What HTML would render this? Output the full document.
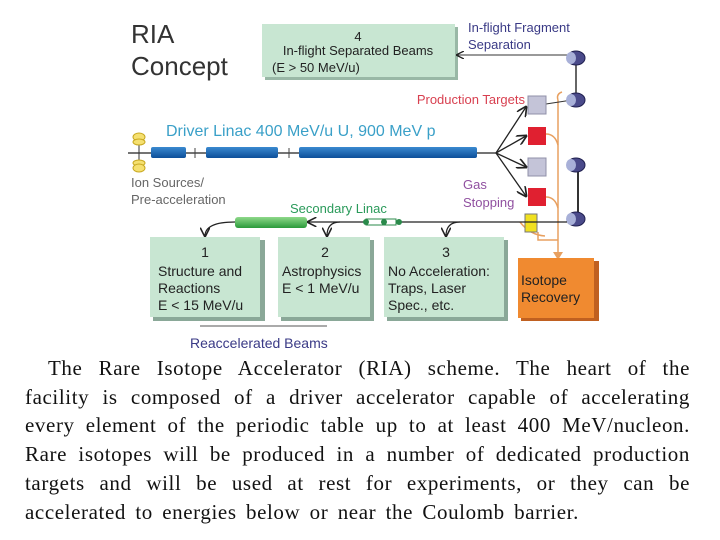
<!DOCTYPE html>
<html><head><style>
body{margin:0;width:720px;height:540px;background:#fff;overflow:hidden;font-family:"Liberation Sans",sans-serif}
#cap{position:absolute;left:25px;top:354px;width:665px;font-family:"Liberation Serif",serif;font-size:21px;line-height:28.7px;color:#111;letter-spacing:0.6px}
#cap div{text-align:justify;text-align-last:justify;white-space:nowrap}
#cap div.l{text-align-last:left;word-spacing:3.5px}
</style></head><body>
<svg width="720" height="350" style="position:absolute;left:0;top:0" font-family="Liberation Sans, sans-serif">
<defs>
<marker id="ah" markerWidth="8" markerHeight="8" refX="7" refY="4" orient="auto"><path d="M0,0 L8,4 L0,8" fill="none" stroke="#222" stroke-width="1.3"/></marker>
<linearGradient id="bl" x1="0" y1="0" x2="0" y2="1"><stop offset="0" stop-color="#3a8ad0"/><stop offset="1" stop-color="#0d4f9a"/></linearGradient>
<linearGradient id="gr" x1="0" y1="0" x2="0" y2="1"><stop offset="0" stop-color="#8fd98a"/><stop offset="1" stop-color="#2a9a3a"/></linearGradient>
</defs>
<text x="131" y="43" font-size="26" fill="#333">RIA</text>
<text x="131" y="75" font-size="26" fill="#333">Concept</text>
<rect x="265" y="27" width="193" height="53" fill="#99b8a6"/>
<rect x="262" y="24" width="193" height="53" fill="#c8e6d2"/>
<text x="358" y="41" font-size="13" text-anchor="middle" fill="#222">4</text>
<text x="358" y="55" font-size="13" text-anchor="middle" fill="#222">In-flight Separated Beams</text>
<text x="272" y="72" font-size="13" fill="#222">(E &gt; 50 MeV/u)</text>
<text x="468" y="32" font-size="13" fill="#3a3a86">In-flight Fragment</text>
<text x="468" y="49" font-size="13" fill="#3a3a86">Separation</text>
<line x1="570" y1="55" x2="457" y2="55" stroke="#333" marker-end="url(#ah)"/>
<path d="M558,100 Q556,94 562,92 M558,100 L558,255" stroke="#e8a060" fill="none" stroke-width="1.5"/>
<path d="M546,134 Q555,134 558,145 M546,197 Q555,197 558,208 M538,232 L538,240 L558,240 M520,222 Q530,235 545,236" stroke="#e8a060" fill="none" stroke-width="1.5"/>
<polygon points="553,252 563,252 558,260" fill="#e8a060"/>
<line x1="576" y1="58" x2="576" y2="100" stroke="#333" stroke-width="1.5"/>
<line x1="578" y1="165" x2="578" y2="219" stroke="#333" stroke-width="2"/>
<line x1="546" y1="104" x2="572" y2="100" stroke="#333"/>
<g fill="#4a4a8a" stroke="#202050">
<ellipse cx="576" cy="58" rx="9" ry="7"/><ellipse cx="576" cy="100" rx="9" ry="7"/><ellipse cx="576" cy="165" rx="9" ry="7"/><ellipse cx="576" cy="219" rx="9" ry="7"/>
</g>
<g fill="#a8b0d8"><ellipse cx="571" cy="58" rx="5" ry="6"/><ellipse cx="571" cy="100" rx="5" ry="6"/><ellipse cx="571" cy="165" rx="5" ry="6"/><ellipse cx="571" cy="219" rx="5" ry="6"/></g>
<text x="525" y="104" font-size="13" fill="#d84050" text-anchor="end">Production Targets</text>
<rect x="528" y="96" width="18" height="18" fill="#c4c4d8" stroke="#9090a8"/>
<rect x="528" y="127" width="18" height="18" fill="#e02030"/>
<rect x="528" y="158" width="18" height="18" fill="#c4c4d8" stroke="#9090a8"/>
<rect x="528" y="188" width="18" height="18" fill="#e02030"/>
<rect x="525" y="214" width="12" height="18" fill="#f0e020" stroke="#777"/>
<g stroke="#222" stroke-width="1.3" fill="none">
<line x1="496" y1="153" x2="526" y2="107" marker-end="url(#ah)"/>
<line x1="496" y1="153" x2="526" y2="136" marker-end="url(#ah)"/>
<line x1="496" y1="153" x2="526" y2="167" marker-end="url(#ah)"/>
<line x1="496" y1="153" x2="526" y2="196" marker-end="url(#ah)"/>
</g>
<text x="166" y="136" font-size="16" fill="#3aa0c8">Driver Linac 400 MeV/u U, 900 MeV p</text>
<line x1="128" y1="153" x2="496" y2="153" stroke="#222" stroke-width="1.3"/>
<line x1="195" y1="148" x2="195" y2="158" stroke="#444"/><line x1="289" y1="148" x2="289" y2="158" stroke="#444"/>
<rect x="151" y="147" width="35" height="11" rx="2" fill="url(#bl)"/>
<rect x="206" y="147" width="72" height="11" rx="2" fill="url(#bl)"/>
<rect x="299" y="147" width="178" height="11" rx="2" fill="url(#bl)"/>
<line x1="139" y1="135" x2="139" y2="170" stroke="#333"/>
<ellipse cx="139" cy="137" rx="6" ry="4" fill="#f5e070" stroke="#c8a820"/>
<ellipse cx="139" cy="142" rx="6" ry="3" fill="#f5e070" stroke="#c8a820"/>
<ellipse cx="139" cy="163" rx="6" ry="3" fill="#f5e070" stroke="#c8a820"/>
<ellipse cx="139" cy="168" rx="6" ry="4" fill="#f5e070" stroke="#c8a820"/>
<text x="131" y="187" font-size="13" fill="#666">Ion Sources/</text>
<text x="131" y="204" font-size="13" fill="#666">Pre-acceleration</text>
<text x="463" y="189" font-size="13" fill="#9050a0">Gas</text>
<text x="463" y="207" font-size="13" fill="#9050a0">Stopping</text>
<text x="290" y="213" font-size="13" fill="#2a9a5a">Secondary Linac</text>
<line x1="567" y1="222" x2="308" y2="222" stroke="#222" stroke-width="1.2" marker-end="url(#ah)"/>
<rect x="235" y="217" width="72" height="11" rx="3" fill="url(#gr)"/>
<rect x="366" y="219" width="30" height="6" fill="#fff" stroke="#2a8a4a"/>
<circle cx="366" cy="222" r="3" fill="#2a8a4a"/><circle cx="384" cy="222" r="3" fill="#2a8a4a"/><circle cx="399" cy="222" r="3" fill="#2a8a4a"/>
<g stroke="#222" stroke-width="1.2" fill="none">
<path d="M235,222 Q205,222 205,236" marker-end="url(#ah)"/>
<path d="M340,222 Q327,222 327,236" marker-end="url(#ah)"/>
<path d="M460,222 Q446,222 446,236" marker-end="url(#ah)"/>
</g>
<rect x="153" y="240" width="112" height="81" fill="#8aa898"/>
<rect x="150" y="237" width="110" height="80" fill="#c8e6d2"/>
<rect x="281" y="240" width="93" height="81" fill="#8aa898"/>
<rect x="278" y="237" width="92" height="80" fill="#c8e6d2"/>
<rect x="387" y="240" width="121" height="81" fill="#8aa898"/>
<rect x="384" y="237" width="120" height="80" fill="#c8e6d2"/>
<g font-size="14" fill="#222">
<text x="205" y="257" text-anchor="middle">1</text>
<text x="158" y="276">Structure and</text><text x="158" y="293">Reactions</text><text x="158" y="310">E &lt; 15 MeV/u</text>
<text x="325" y="257" text-anchor="middle">2</text>
<text x="282" y="276">Astrophysics</text><text x="282" y="293">E &lt; 1 MeV/u</text>
<text x="446" y="257" text-anchor="middle">3</text>
<text x="388" y="276">No Acceleration:</text><text x="388" y="293">Traps, Laser</text><text x="388" y="310">Spec., etc.</text>
</g>
<rect x="521" y="261" width="78" height="60" fill="#c06020"/>
<rect x="518" y="258" width="76" height="60" fill="#f08a30"/>
<text x="521" y="285" font-size="14" fill="#222">Isotope</text>
<text x="521" y="302" font-size="14" fill="#222">Recovery</text>
<line x1="200" y1="326" x2="327" y2="326" stroke="#555"/>
<text x="190" y="348" font-size="14" fill="#3a3a86">Reaccelerated Beams</text>
</svg>
<div id="cap">
<div style="padding-left:23px">The Rare Isotope Accelerator (RIA) scheme. The heart of the</div>
<div>facility is composed of a driver accelerator capable of accelerating</div>
<div>every element of the periodic table up to at least 400 MeV/nucleon.</div>
<div>Rare isotopes will be produced in a number of dedicated production</div>
<div>targets and will be used at rest for experiments, or they can be</div>
<div class="l">accelerated to energies below or near the Coulomb barrier.</div>
</div>
</body></html>
